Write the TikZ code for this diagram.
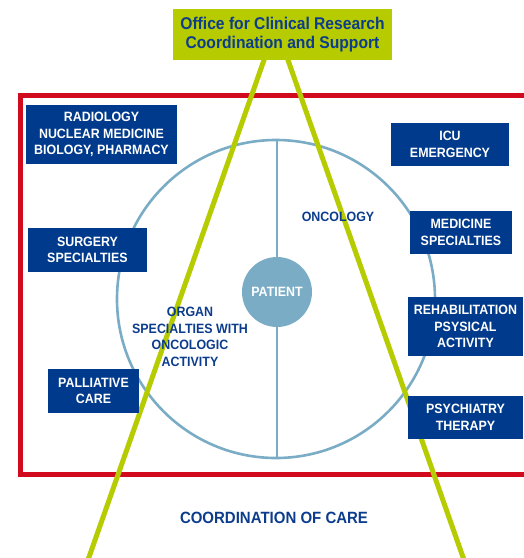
\documentclass[tikz,border=0pt]{standalone}
\usepackage{fontspec}
\setmainfont{Liberation Sans}[FakeStretch=0.92]
\definecolor{boxblue}{RGB}{0,58,140}
\definecolor{txtblue}{RGB}{12,60,140}
\definecolor{lime}{RGB}{182,204,0}
\definecolor{redline}{RGB}{210,10,30}
\definecolor{lblue}{RGB}{122,172,198}
\begin{document}
\begin{tikzpicture}[x=1pt,y=-1pt,
  bluebox/.style={fill=boxblue,text=white,font=\fontsize{13.5}{16.5}\selectfont\bfseries,align=center,inner sep=0pt},
  label/.style={text=txtblue,font=\fontsize{13.5}{16.5}\selectfont\bfseries,align=center,inner sep=0pt},
  greenline/.style={draw=lime,line width=5pt},
  ringline/.style={draw=lblue,line width=2.6pt}]
\useasboundingbox (0,0) rectangle (524,558);
% red frame
\draw[draw=redline,line width=5pt] (540,95) -- (20,95) -- (20,474) -- (540,474);
% big circle
\node[circle,ringline,minimum size=318pt,inner sep=0pt] (care) at (276,299) {};
\node[circle,fill=lblue,minimum size=70pt,inner sep=0pt,text=white,font=\fontsize{13.5}{16.5}\selectfont\bfseries] (patient) at (277,292) {PATIENT};
\draw[ringline] (care.north -| patient.north) -- (patient.north);
\draw[ringline] (patient.south) -- (care.south -| patient.south);
% green apex and lines
\coordinate (apex) at (276,26);
\coordinate (leftend) at (88,560);
\coordinate (rightend) at (464,560);
\draw[greenline] (apex) -- (leftend);
\draw[greenline] (apex) -- (rightend);
% top box
\node[fill=lime,text=txtblue,font=\fontsize{17}{18.5}\selectfont\bfseries,align=center,minimum width=219pt,minimum height=51pt,inner sep=0pt] (office) at (282.5,34.5) {Office for Clinical Research\\Coordination and Support};
% blue boxes
\node[bluebox,minimum width=151pt,minimum height=59pt] (radio) at (101.5,134.5) {RADIOLOGY\\NUCLEAR MEDICINE\\BIOLOGY, PHARMACY};
\node[bluebox,minimum width=118pt,minimum height=43pt] (icu) at (450,144.5) {ICU\\EMERGENCY};
\node[bluebox,minimum width=102pt,minimum height=43pt] (medicine) at (461,232.5) {MEDICINE\\SPECIALTIES};
\node[bluebox,minimum width=115pt,minimum height=59pt] (rehab) at (465.5,326.5) {REHABILITATION\\PSYSICAL\\ACTIVITY};
\node[bluebox,minimum width=115pt,minimum height=43pt] (psych) at (465.5,417.5) {PSYCHIATRY\\THERAPY};
\node[bluebox,minimum width=119pt,minimum height=44pt] (surgery) at (87.5,250) {SURGERY\\SPECIALTIES};
\node[bluebox,minimum width=91pt,minimum height=44pt] (palliative) at (93.5,391) {PALLIATIVE\\CARE};
% labels
\node[label] (oncology) at (338,217) {ONCOLOGY};
\node[label] (organ) at (190,337) {ORGAN\\SPECIALTIES WITH\\ONCOLOGIC\\ACTIVITY};
\node[label,font=\fontsize{16.3}{18}\selectfont\bfseries] (coord) at (274,518) {COORDINATION OF CARE};
\end{tikzpicture}
\end{document}
